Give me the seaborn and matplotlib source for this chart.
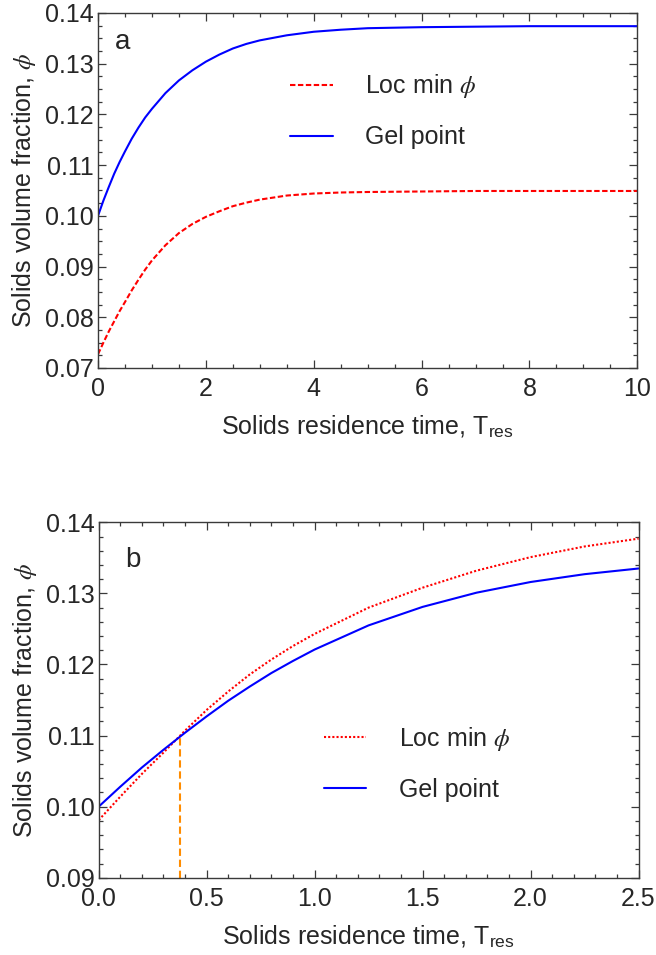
import numpy as np
import pandas as pd
import matplotlib
matplotlib.use("Agg")
import matplotlib.pyplot as plt
import seaborn as sns
from matplotlib.ticker import MultipleLocator, FormatStrFormatter
from matplotlib.lines import Line2D

# ---------------- data ----------------
t_a = [0.0, 0.1, 0.2, 0.3, 0.4, 0.5, 0.625, 0.75, 0.875, 1.0, 1.25, 1.5,
       1.75, 2.0, 2.25, 2.5, 2.75, 3.0, 3.5, 4.0, 4.5, 5.0, 6.0, 7.0, 8.0,
       10.0]
gel_a = [0.1000, 0.1030, 0.1057, 0.1083, 0.1106, 0.1127, 0.1152, 0.1174,
         0.1194, 0.1211, 0.1242, 0.1267, 0.1287, 0.1304, 0.1318, 0.1330,
         0.1339, 0.1346, 0.1356, 0.1363, 0.1367, 0.1370, 0.1372, 0.1373,
         0.1374, 0.1374]
locmin_a = [0.0727, 0.0750, 0.0772, 0.0792, 0.0812, 0.0830, 0.0853, 0.0874,
            0.0894, 0.0912, 0.0942, 0.0966, 0.0984, 0.0998, 0.1009, 0.1019,
            0.1026, 0.1032, 0.1040, 0.1044, 0.1046, 0.1047, 0.1048, 0.1049,
            0.1049, 0.1049]

t_b = [0.0, 0.1, 0.2, 0.3, 0.4, 0.5, 0.6, 0.7, 0.8, 0.9, 1.0, 1.25, 1.5,
       1.75, 2.0, 2.25, 2.5]
gel_b = [0.1000, 0.1028, 0.1055, 0.1080, 0.1104, 0.1127, 0.1149, 0.1169,
         0.1188, 0.1205, 0.1221, 0.1255, 0.1281, 0.1301, 0.1316, 0.1327,
         0.1335]
locmin_b = [0.0981, 0.1014, 0.1046, 0.1076, 0.1107, 0.1136, 0.1162, 0.1186,
            0.1207, 0.1226, 0.1243, 0.1280, 0.1308, 0.1332, 0.1351, 0.1366,
            0.1377]

t_cross = 0.376
phi_cross = 0.110

series_labels = ["Loc min $\\phi$", "Gel point"]
panel_labels = ["a", "b"]
xlabel = "Solids residence time, T$_{\\mathrm{res}}$"
ylabel = "Solids volume fraction, $\\phi$"

# ---------------- style ----------------
sns.set_theme(style="white")
plt.rcParams["font.family"] = ["Liberation Sans", "DejaVu Sans"]
plt.rcParams["mathtext.fontset"] = "custom"
plt.rcParams["mathtext.rm"] = "Liberation Sans"
plt.rcParams["mathtext.it"] = "STIXGeneral:italic"
plt.rcParams["mathtext.fallback"] = "stix"

FS = 18
spine_col = "#3a3a3a"
red_dash = (0, (2.6, 1.2))
red_dot = (0, (1.0, 1.0))

fig = plt.figure(figsize=(6.56, 9.55), dpi=100)
ax_a = fig.add_axes([0.1494, 0.6147, 0.8222, 0.3717])
ax_b = fig.add_axes([0.1504, 0.0809, 0.8230, 0.3722])

df_a = pd.DataFrame({"t": t_a * 2,
                     "phi": locmin_a + gel_a,
                     "curve": [series_labels[0]] * len(t_a) + [series_labels[1]] * len(t_a)})
df_b = pd.DataFrame({"t": t_b * 2,
                     "phi": locmin_b + gel_b,
                     "curve": [series_labels[0]] * len(t_b) + [series_labels[1]] * len(t_b)})

palette = {series_labels[0]: "#ff0000", series_labels[1]: "#0000ff"}

sns.lineplot(data=df_a, x="t", y="phi", hue="curve", palette=palette,
             ax=ax_a, legend=False, lw=1.5, sort=True)
sns.lineplot(data=df_b, x="t", y="phi", hue="curve", palette=palette,
             ax=ax_b, legend=False, lw=1.5, sort=True)

for ax, style in [(ax_a, red_dash), (ax_b, red_dot)]:
    ax.get_lines()[0].set_linestyle(style)

# crossing marker line in panel b
ax_b.plot([t_cross, t_cross], [0.09, phi_cross], color="darkorange",
          lw=1.5, linestyle=(0, (3.5, 1.8)), zorder=1)


def fmt(ax, xlim, ylim, xmaj, xmin, ymaj, ymin, xfmt, yfmt):
    ax.set_xlim(*xlim)
    ax.set_ylim(*ylim)
    ax.xaxis.set_major_locator(MultipleLocator(xmaj))
    ax.xaxis.set_minor_locator(MultipleLocator(xmin))
    ax.yaxis.set_major_locator(MultipleLocator(ymaj))
    ax.yaxis.set_minor_locator(MultipleLocator(ymin))
    ax.xaxis.set_major_formatter(FormatStrFormatter(xfmt))
    ax.yaxis.set_major_formatter(FormatStrFormatter(yfmt))
    ax.tick_params(which="both", direction="in", top=True, right=True,
                   bottom=True, left=True, color=spine_col, width=0.9)
    ax.tick_params(which="major", length=6, labelsize=FS)
    ax.tick_params(which="minor", length=3)
    ax.tick_params(axis="x", which="major", pad=6.5)
    ax.tick_params(axis="y", which="major", pad=3)
    for s in ax.spines.values():
        s.set_color(spine_col)
        s.set_linewidth(1.0)
    ax.set_xlabel(xlabel, fontsize=FS, labelpad=9)
    ax.set_ylabel(ylabel, fontsize=FS, labelpad=5)


fmt(ax_a, (0, 10), (0.07, 0.14), 2, 0.5, 0.01, 0.0025, "%g", "%.2f")
fmt(ax_b, (0, 2.5), (0.09, 0.14), 0.5, 0.1, 0.01, 0.002, "%.1f", "%.2f")

# panel letters
ax_a.text(0.045, 0.918, panel_labels[0], transform=ax_a.transAxes,
          fontsize=20, ha="center", va="center")
ax_b.text(0.063, 0.894, panel_labels[1], transform=ax_b.transAxes,
          fontsize=20, ha="center", va="center")


def add_legend(ax, style, anchor):
    handles = [Line2D([], [], color="#ff0000", lw=1.5, linestyle=style),
               Line2D([], [], color="#0000ff", lw=1.5)]
    ax.legend(handles, series_labels, loc="center left", bbox_to_anchor=anchor,
              frameon=False, fontsize=FS, handlelength=1.7, handletextpad=1.3,
              labelspacing=1.0, borderpad=0, borderaxespad=0)


add_legend(ax_a, red_dash, (0.356, 0.724))
add_legend(ax_b, red_dot, (0.417, 0.321))

fig.savefig("out.png", dpi=100)
